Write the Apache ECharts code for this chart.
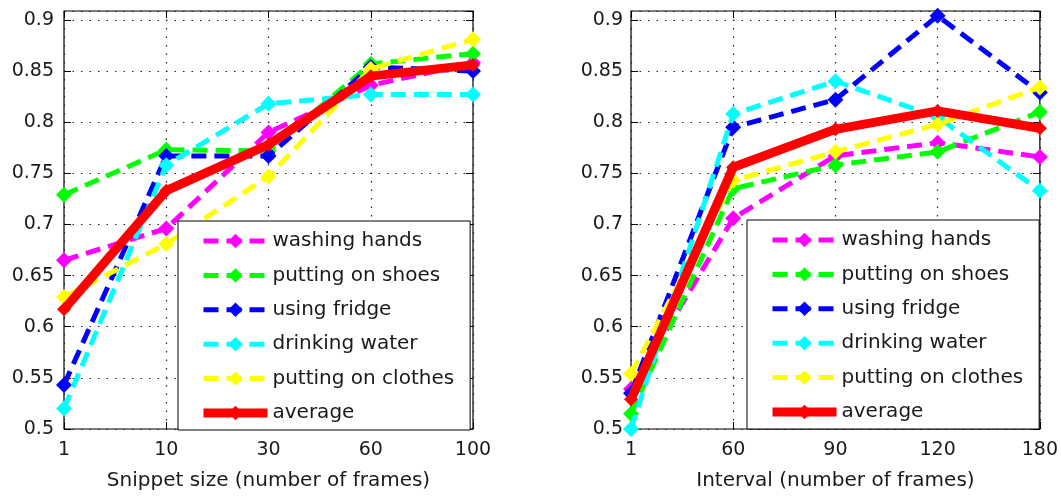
<!DOCTYPE html>
<html>
<head>
<meta charset="utf-8">
<script src="https://cdn.jsdelivr.net/npm/echarts@6/dist/echarts.min.js"></script>
<style>html,body{margin:0;padding:0;background:#fff;}#c{width:1061px;height:496px;}</style>
</head>
<body>
<div id="c"></div>
<script>
// ---- data ----
var seriesNames = ['washing hands', 'putting on shoes', 'using fridge', 'drinking water', 'putting on clothes', 'average'];
var seriesColors = ['#ff00ff', '#00ff00', '#0000ff', '#00ffff', '#ffff00', '#ff0000'];

var leftCategories = ['1', '10', '30', '60', '100'];
var leftTitle = 'Snippet size (number of frames)';
var leftWashingHands    = [0.665, 0.696, 0.790, 0.836, 0.858];
var leftPuttingOnShoes  = [0.729, 0.773, 0.772, 0.857, 0.867];
var leftUsingFridge     = [0.543, 0.767, 0.767, 0.854, 0.850];
var leftDrinkingWater   = [0.520, 0.758, 0.818, 0.827, 0.827];
var leftPuttingOnClothes= [0.629, 0.681, 0.747, 0.852, 0.881];
var leftAverage         = [0.617, 0.733, 0.778, 0.845, 0.856];

var rightCategories = ['1', '60', '90', '120', '180'];
var rightTitle = 'Interval (number of frames)';
var rightWashingHands    = [0.539, 0.706, 0.767, 0.780, 0.766];
var rightPuttingOnShoes  = [0.515, 0.735, 0.758, 0.771, 0.810];
var rightUsingFridge     = [0.535, 0.795, 0.822, 0.904, 0.829];
var rightDrinkingWater   = [0.500, 0.808, 0.840, 0.805, 0.733];
var rightPuttingOnClothes= [0.554, 0.743, 0.771, 0.798, 0.834];
var rightAverage         = [0.529, 0.756, 0.793, 0.811, 0.794];

var yMin = 0.5, yMax = 0.9087, yStep = 0.05;

var leftData = [leftWashingHands, leftPuttingOnShoes, leftUsingFridge, leftDrinkingWater, leftPuttingOnClothes, leftAverage];
var rightData = [rightWashingHands, rightPuttingOnShoes, rightUsingFridge, rightDrinkingWater, rightPuttingOnClothes, rightAverage];

// ---- styles ----
var FONT = 'DejaVu Sans';
var TXT = '#1a1a1a';
var gridLine = { show: true, lineStyle: { color: '#222', width: 1.2, type: [1.5, 7] } };

function yLabelFmt(v) {
  var k = v / yStep;
  if (Math.abs(k - Math.round(k)) > 1e-6) return '';
  return String(+v.toFixed(2));
}

function xMain(gi, cats, title) {
  return {
    type: 'category', gridIndex: gi, data: cats, boundaryGap: false, position: 'bottom',
    axisLine: { show: false },
    axisTick: { show: true, inside: true, length: 7, lineStyle: { color: '#000', width: 1 } },
    axisLabel: { fontFamily: FONT, fontSize: 19, color: TXT, margin: 12 },
    splitLine: gridLine,
    name: title, nameLocation: 'middle', nameGap: 42,
    nameTextStyle: { fontFamily: FONT, fontSize: 20, color: TXT }
  };
}
function xMirror(gi, cats) {
  return {
    type: 'category', gridIndex: gi, data: cats, boundaryGap: false, position: 'top',
    axisLine: { show: false },
    axisTick: { show: true, inside: true, length: 7, lineStyle: { color: '#000', width: 1 } },
    axisLabel: { show: false }, splitLine: { show: false }
  };
}
function yMain(gi, margin) {
  return {
    type: 'value', gridIndex: gi, min: yMin, max: yMax, interval: yStep, position: 'left',
    axisLine: { show: false },
    axisTick: { show: true, inside: true, length: 7, lineStyle: { color: '#000', width: 1 } },
    axisLabel: { fontFamily: FONT, fontSize: 19, color: TXT, margin: margin, formatter: yLabelFmt, showMaxLabel: false },
    splitLine: gridLine
  };
}
function yMirror(gi) {
  return {
    type: 'value', gridIndex: gi, min: yMin, max: yMax, interval: yStep, position: 'right',
    axisLine: { show: false },
    axisTick: { show: true, inside: true, length: 7, lineStyle: { color: '#000', width: 1 } },
    axisLabel: { show: false }, splitLine: { show: false }
  };
}

function buildSeries(dataSet, xi, yi) {
  return dataSet.map(function (vals, i) {
    var avg = i === seriesNames.length - 1;
    return {
      type: 'line', name: seriesNames[i], xAxisIndex: xi, yAxisIndex: yi, data: vals,
      symbol: 'diamond', symbolSize: avg ? 14 : 16, showSymbol: true,
      lineStyle: { color: seriesColors[i], width: avg ? 9 : 5, type: avg ? 'solid' : [15, 8] },
      itemStyle: { color: seriesColors[i] },
      animation: false, z: 2 + i * 0.1
    };
  });
}

function legendAt(left, top) {
  return {
    orient: 'vertical', left: left, top: top,
    itemWidth: 64, itemHeight: 18, itemGap: 14.4,
    padding: [10, 16, 7, 21],
    backgroundColor: '#fff', borderColor: '#000', borderWidth: 1,
    textStyle: { fontFamily: FONT, fontSize: 20, color: TXT },
    lineStyle: { width: 'inherit', type: 'inherit' },
    data: seriesNames, selectedMode: false
  };
}

var chart = echarts.init(document.getElementById('c'), null, { renderer: 'canvas' });
chart.setOption({
  backgroundColor: '#fff',
  animation: false,
  grid: [
    { left: 64, top: 11, width: 409, height: 422, show: true, borderColor: '#000', borderWidth: 1.2, backgroundColor: 'transparent' },
    { left: 631, top: 11, width: 410, height: 422, show: true, borderColor: '#000', borderWidth: 1.2, backgroundColor: 'transparent' }
  ],
  xAxis: [xMain(0, leftCategories, leftTitle), xMain(1, rightCategories, rightTitle), xMirror(0, leftCategories), xMirror(1, rightCategories)],
  yAxis: [yMain(0, 10), yMain(1, 8), yMirror(0), yMirror(1)],
  legend: [legendAt(178, 221), legendAt(747, 220)],
  series: buildSeries(leftData, 0, 0).concat(buildSeries(rightData, 1, 1))
});
</script>
</body>
</html>
